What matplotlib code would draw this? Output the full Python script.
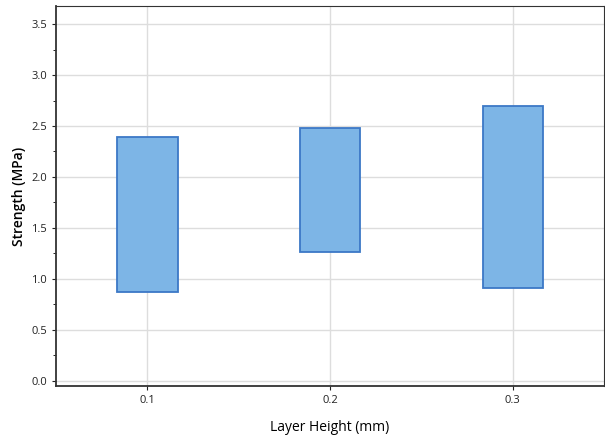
import matplotlib
matplotlib.use("Agg")
import matplotlib.pyplot as plt
from matplotlib.ticker import MultipleLocator

layer_height = [0.1, 0.2, 0.3]
strength_low = [0.87, 1.26, 0.91]
strength_high = [2.39, 2.48, 2.70]

plt.rcParams['font.family'] = ['Open Sans', 'DejaVu Sans']

fig = plt.figure(figsize=(6.05, 4.41), dpi=100)
ax = fig.add_axes([0.0926, 0.125, 0.906, 0.861])

heights = [h - l for h, l in zip(strength_high, strength_low)]
ax.bar(layer_height, heights, bottom=strength_low, width=0.033,
       color='#7db5e6', edgecolor='#3c78c6', linewidth=1.3, zorder=3)

ax.set_xlim(0.05, 0.35)
ax.set_ylim(-0.052, 3.677)
ax.set_xticks(layer_height)
ax.set_xticklabels(['0.1', '0.2', '0.3'])
ax.yaxis.set_major_locator(MultipleLocator(0.5))
ax.yaxis.set_minor_locator(MultipleLocator(0.25))
ax.yaxis.set_major_formatter(matplotlib.ticker.FormatStrFormatter('%.1f'))

ax.grid(True, color='#dddddd', linewidth=1, zorder=0)
ax.tick_params(axis='both', labelsize=8, colors='#222222', length=3)
ax.tick_params(axis='y', which='minor', length=2)
for s in ax.spines.values():
    s.set_color('#333333')
ax.spines['left'].set_linewidth(1.3)
ax.spines['bottom'].set_linewidth(1.3)

ax.set_xlabel('Layer Height (mm)', fontsize=10, labelpad=10)
ax.set_ylabel('Strength (MPa)', fontsize=10, labelpad=4, fontweight='semibold')

fig.savefig('out.png', dpi=100)
